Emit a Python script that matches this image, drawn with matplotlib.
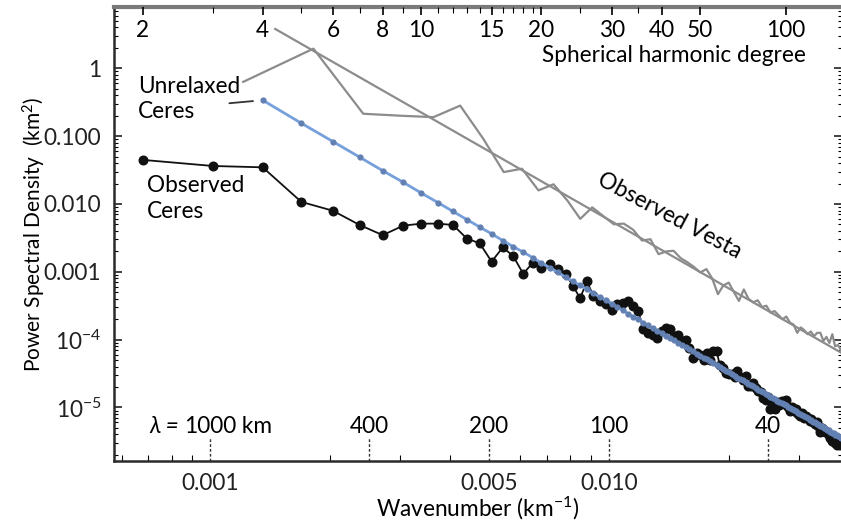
import numpy as np
import matplotlib
matplotlib.use("Agg")
import matplotlib.pyplot as plt
from matplotlib.ticker import FixedLocator, FixedFormatter, NullFormatter, LogLocator

plt.rcParams['font.family'] = ['Lato', 'DejaVu Sans']
plt.rcParams['mathtext.default'] = 'regular'

# % data, log10 of power spectral density (km^2)

# circumference 2*pi*R (km), turns a degree into a wavenumber
CERES_CIRC = 2 * np.pi * 470.0
VESTA_CIRC = 2 * np.pi * 263.0

ceres_deg = np.arange(2, 114)
ceres_obs_log = [
    -1.35, -1.44, -1.46, -1.97, -2.10, -2.31, -2.46, -2.32, -2.29, -2.29,
    -2.31, -2.51, -2.58, -2.85, -2.64, -2.77, -3.03, -2.87, -2.95, -2.89,
    -2.96, -3.03, -3.21, -3.39, -3.14, -3.36, -3.43, -3.47, -3.57, -3.48,
    -3.46, -3.43, -3.51, -3.58, -3.85, -3.91, -3.93, -3.98, -3.88, -3.83,
    -3.85, -3.95, -3.93, -4.02, -4.00, -4.12, -4.27, -4.20, -4.22, -4.30,
    -4.20, -4.30, -4.17, -4.17, -4.38, -4.42, -4.49, -4.50, -4.51, -4.55,
    -4.47, -4.55, -4.60, -4.54, -4.69, -4.68, -4.64, -4.72, -4.76, -4.78,
    -4.86, -4.89, -4.84, -5.03, -4.93, -5.03, -4.92, -4.96, -4.91, -4.95,
    -4.89, -5.00, -5.05, -4.99, -5.06, -5.03, -5.10, -5.12, -5.08, -5.15,
    -5.12, -5.16, -5.20, -5.17, -5.22, -5.25, -5.21, -5.28, -5.36, -5.30,
    -5.33, -5.36, -5.36, -5.40, -5.45, -5.50, -5.47, -5.52, -5.55, -5.53,
    -5.56, -5.52]

unrelaxed_deg = np.arange(4, 114)
unrelaxed_log = [
    -0.47, -0.81, -1.08, -1.31, -1.51, -1.68, -1.84, -1.98, -2.11, -2.23,
    -2.34, -2.44, -2.54, -2.63, -2.71, -2.79, -2.87, -2.94, -3.01, -3.08,
    -3.14, -3.20, -3.26, -3.32, -3.37, -3.42, -3.47, -3.52, -3.57, -3.62,
    -3.66, -3.70, -3.75, -3.79, -3.83, -3.87, -3.90, -3.94, -3.98, -4.01,
    -4.05, -4.08, -4.11, -4.14, -4.17, -4.21, -4.24, -4.27, -4.29, -4.32,
    -4.35, -4.38, -4.40, -4.43, -4.46, -4.48, -4.51, -4.53, -4.56, -4.58,
    -4.60, -4.63, -4.65, -4.67, -4.69, -4.72, -4.74, -4.76, -4.78, -4.80,
    -4.82, -4.84, -4.86, -4.88, -4.90, -4.92, -4.94, -4.95, -4.97, -4.99,
    -5.01, -5.03, -5.04, -5.06, -5.08, -5.09, -5.11, -5.13, -5.14, -5.16,
    -5.18, -5.19, -5.21, -5.22, -5.24, -5.25, -5.27, -5.28, -5.30, -5.31,
    -5.33, -5.34, -5.36, -5.37, -5.38, -5.40, -5.41, -5.42, -5.44, -5.45]

vesta_deg = np.arange(2, 64)
vesta_log = [
    -0.20, 0.29, -0.67, -0.70, -0.72, -0.55, -1.04, -1.53, -1.48, -1.80,
    -1.71, -1.95, -2.22, -2.05, -2.18, -2.30, -2.29, -2.38, -2.54, -2.52,
    -2.74, -2.70, -2.69, -2.80, -2.86, -2.93, -3.01, -2.96, -3.10, -3.33,
    -3.20, -3.16, -3.30, -3.43, -3.26, -3.40, -3.45, -3.42, -3.52, -3.50,
    -3.60, -3.58, -3.64, -3.70, -3.66, -3.75, -3.78, -3.90, -3.82, -3.86,
    -3.92, -3.88, -3.95, -3.90, -3.90, -4.02, -3.96, -4.05, -3.92, -4.10,
    -4.08, -4.15]

# straight gray reference line (wavenumber km^-1, log10 PSD)
vesta_fit_k = [0.001456, 0.0384]
vesta_fit_log = [0.58, -4.20]

# top axis, "100" sits at about degree 82 in the source figure
top_labels = ["2", "4", "6", "8", "10", "15", "20", "30", "40", "50", "100"]
top_label_deg = [2, 4, 6, 8, 10, 15, 20, 30, 40, 50, 82]
top_minor_deg = [3, 5, 7, 9, 11, 12, 13, 14, 16, 17, 18, 19, 25, 35]

lam_km = [1000, 400, 200, 100, 40]
lam_labels = ["1000", "400", "200", "100", "40"]

ytick_vals = [1, 0.1, 0.01, 0.001, 1e-4, 1e-5]
ytick_labels = ["1", "0.100", "0.010", "0.001", r"$10^{-4}$", r"$10^{-5}$"]
xtick_vals = [0.001, 0.005, 0.010]
xtick_labels = ["0.001", "0.005", "0.010"]

# %% figure

fs = 16.3
fig = plt.figure(figsize=(8.41, 5.22), dpi=100)
ax = fig.add_axes([114/841, 61/522, 728/841, 454/522])
ax.set_xscale("log")
ax.set_yscale("log")
ax.set_xlim(5.74e-4, 3.84e-2)
ax.set_ylim(10**-5.79, 10**0.904)

ceres_k = ceres_deg / CERES_CIRC
unrel_k = unrelaxed_deg / CERES_CIRC
vesta_k = vesta_deg / VESTA_CIRC

gray = "#8c8c8c"
ax.plot(vesta_k, 10**np.array(vesta_log), color=gray, lw=1.6, zorder=2)
ax.plot(vesta_fit_k, 10**np.array(vesta_fit_log), color=gray, lw=1.6, zorder=2)
ax.plot(ceres_k, 10**np.array(ceres_obs_log), "-o", color="#111111", lw=1.3, ms=6.2, zorder=3)
ax.plot(unrel_k, 10**np.array(unrelaxed_log), "-", color="#76a0dc", lw=2.0, zorder=4)
ax.plot(unrel_k, 10**np.array(unrelaxed_log), "o", color="#6380b3", ms=4.5, mec="none", zorder=5)

# axes styling
for s in ["left", "bottom"]:
    ax.spines[s].set_color("#2a2a2a")
    ax.spines[s].set_linewidth(1.8)
ax.spines["top"].set_color("#7a7a7a")
ax.spines["top"].set_linewidth(3)

ax.yaxis.set_major_locator(FixedLocator(ytick_vals))
ax.yaxis.set_major_formatter(FixedFormatter(ytick_labels))
ax.yaxis.set_minor_locator(LogLocator(base=10, subs=range(2, 10), numticks=20))
ax.yaxis.set_minor_formatter(NullFormatter())
ax.tick_params(axis="y", which="major", direction="in", length=6, width=1.2,
               right=True, labelsize=fs, pad=9, colors="#222222")
ax.tick_params(axis="y", which="minor", direction="in", length=3, width=0.8, right=True)

ax.xaxis.set_major_locator(FixedLocator(xtick_vals))
ax.xaxis.set_major_formatter(FixedFormatter(xtick_labels))
ax.xaxis.set_minor_locator(LogLocator(base=10, subs=range(2, 10), numticks=20))
ax.xaxis.set_minor_formatter(NullFormatter())
ax.tick_params(axis="x", which="major", length=0, labelsize=fs, pad=8.5, colors="#222222")
ax.tick_params(axis="x", which="minor", direction="in", length=4, width=0.8)

ax.set_xlabel(r"Wavenumber (km$^{-1}$)", fontsize=fs, labelpad=0.5)
ax.set_ylabel(r"Power Spectral Density  (km$^{2}$)", fontsize=15, labelpad=-3)

# top axis: spherical harmonic degree
ax2 = ax.twiny()
ax2.set_xscale("log")
ax2.set_xlim(ax.get_xlim())
ax2.xaxis.set_major_locator(FixedLocator(np.array(top_label_deg) / CERES_CIRC))
ax2.xaxis.set_minor_locator(FixedLocator(np.array(top_minor_deg) / CERES_CIRC))
ax2.xaxis.set_major_formatter(NullFormatter())
ax2.xaxis.set_minor_formatter(NullFormatter())
ax2.tick_params(axis="x", which="major", direction="in", length=6, width=1.2)
ax2.tick_params(axis="x", which="minor", direction="in", length=4, width=0.8)
for s in ax2.spines.values():
    s.set_visible(False)
xt = ax.get_xaxis_transform()
for d, lab in zip(top_label_deg, top_labels):
    ax.text(d / CERES_CIRC, 0.949, lab, transform=xt, ha="center", va="center", fontsize=fs)
ax.text(0.951, 0.894, "Spherical harmonic degree", transform=ax.transAxes,
        ha="right", va="center", fontsize=fs)

# wavelength marks along the bottom
for lam, lab in zip(lam_km, lam_labels):
    k = 1.0 / lam
    ax.plot([k, k], [0, 0.05], transform=xt, color="#333333", lw=1.0,
            ls=(0, (2, 1.5)), clip_on=False)
    t = ax.text(k, 0.075, lab, transform=xt, ha="center", va="center", fontsize=fs)
    if lam == lam_km[0]:
        ax.annotate("\u03bb = ", xy=(0, 0.5), xycoords=t, ha="right", va="center",
                    fontsize=fs, style="italic")
        ax.annotate(" km", xy=(1, 0.5), xycoords=t, ha="left", va="center", fontsize=fs)

# series labels
ax.text(0.033, 0.797, "Unrelaxed\nCeres", transform=ax.transAxes, ha="left",
        va="center", fontsize=fs, linespacing=1.25)
ax.text(0.045, 0.578, "Observed\nCeres", transform=ax.transAxes, ha="left",
        va="center", fontsize=fs, linespacing=1.25)
ax.text(0.763, 0.54, "Observed Vesta", transform=ax.transAxes, ha="center",
        va="center", fontsize=fs, rotation=-28, rotation_mode="anchor")
ax.annotate("", xy=(unrel_k[0], 10**unrelaxed_log[0]), xytext=(-24, -2.2),
            textcoords="offset points",
            arrowprops=dict(arrowstyle="-", color="#333333", lw=1.3, shrinkA=0, shrinkB=7))

fig.savefig("out.png", dpi=100)
